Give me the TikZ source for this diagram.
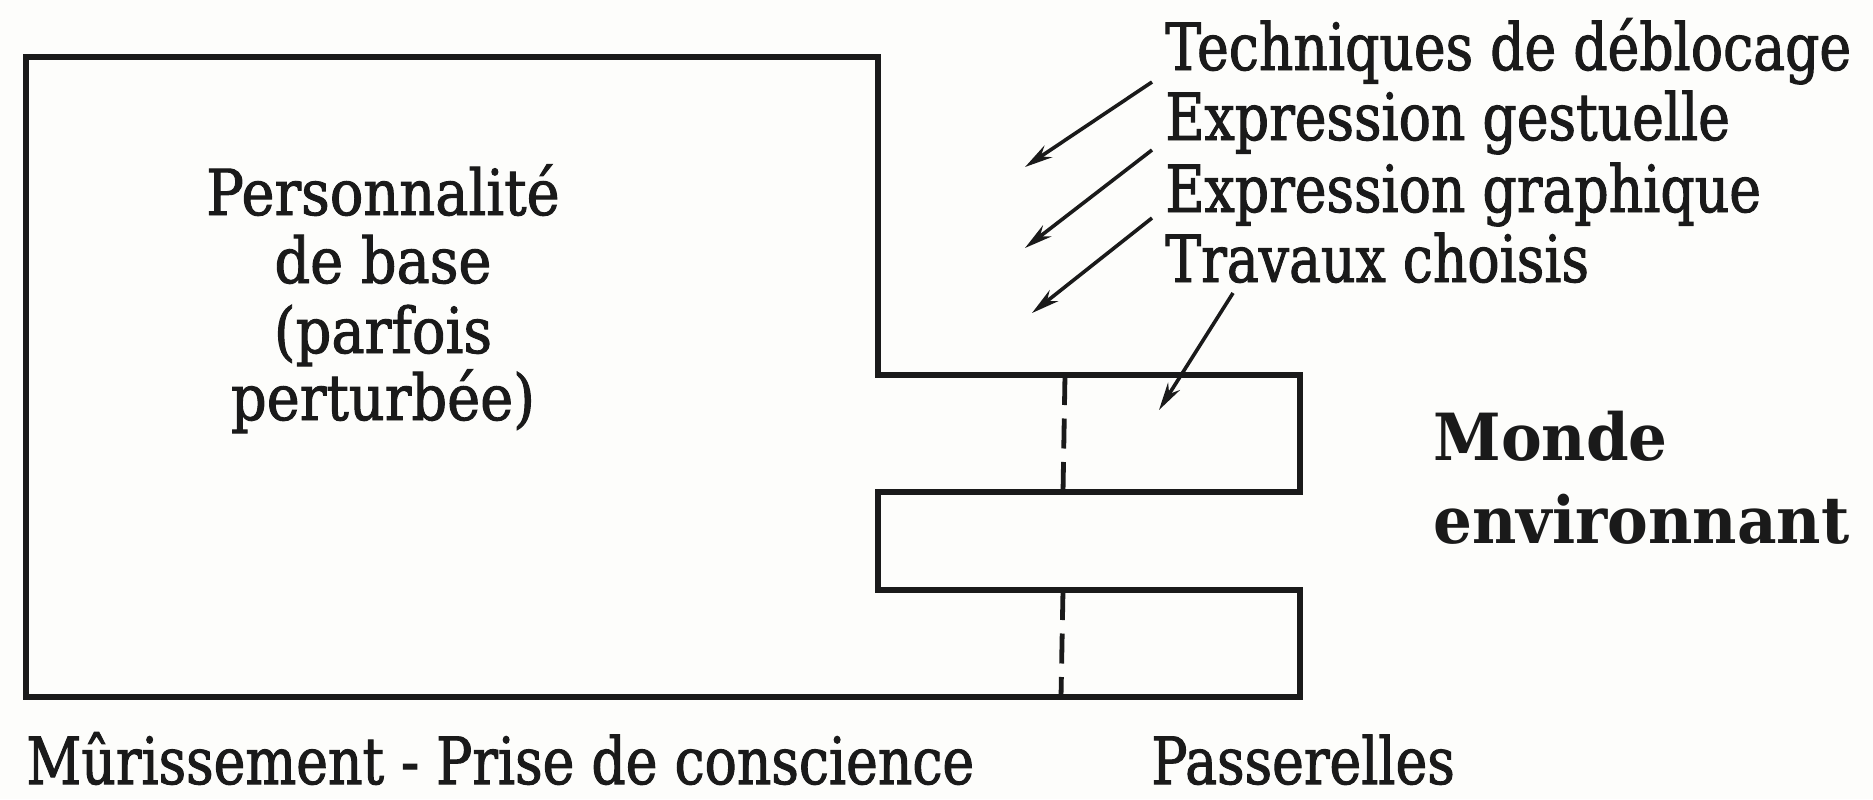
\documentclass[tikz,border=0pt]{standalone}
\usepackage{fontspec}
\setmainfont{DejaVu Serif}[FakeStretch=0.88, FakeBold=1.5]
\newfontfamily\narrowserif{DejaVu Serif}[FakeStretch=0.825, FakeBold=1.5]
\newfontfamily\wideserif{DejaVu Serif}[FakeStretch=0.94]
\usetikzlibrary{arrows.meta}
\definecolor{ink}{HTML}{1A1A1A}
\definecolor{paper}{HTML}{FDFDFB}
\begin{document}
\begin{tikzpicture}[x=0.5pt,y=-0.5pt,
  outline/.style={line width=2.9pt, line join=miter, draw=ink},
  passdash/.style={line width=2.4pt, dash pattern=on 15pt off 6.75pt, draw=ink},
  ptr/.style={line width=1.8pt, draw=ink, -{Stealth[length=14pt,width=7pt]}},
  lbl/.style={inner sep=0pt, text=ink, font=\fontsize{31.7}{36}\selectfont},
  narrowlbl/.style={lbl, font=\narrowserif\fontsize{32.5}{36}\selectfont},
  boldlbl/.style={lbl, font=\wideserif\fontsize{32.5}{36}\selectfont\bfseries},
]
\useasboundingbox[fill=paper] (0,0) rectangle (1873,799);

% outline of the personality block with its two footbridges
\draw[outline] (26,57) -- (878,57) -- (878,375) -- (1300,375) -- (1300,492)
  -- (878,492) -- (878,590) -- (1300,590) -- (1300,697) -- (26,697) -- cycle;

% dashed separations (passerelles)
\coordinate (d1a) at (1065,375); \coordinate (d1b) at (1063,492);
\coordinate (d2a) at (1063,590); \coordinate (d2b) at (1061,697);
\draw[passdash] (d1a) -- (d1b);
\draw[passdash] (d2a) -- (d2b);

% texts
\node[lbl, anchor=base] (p1) at (383,215) {Personnalité};
\node[lbl, anchor=base] (p2) at (383,283) {de base};
\node[lbl, anchor=base] (p3) at (383,353) {(parfois};
\node[lbl, anchor=base] (p4) at (383,420) {perturbée)};

\node[narrowlbl, anchor=base west] (t1) at (1165,70) {Techniques de déblocage};
\node[narrowlbl, anchor=base west] (t2) at (1165,140) {Expression gestuelle};
\node[narrowlbl, anchor=base west] (t3) at (1165,212) {Expression graphique};
\node[narrowlbl, anchor=base west] (t4) at (1165,282) {Travaux choisis};

\node[boldlbl, anchor=base west] (m1) at (1433,460) {Monde};
\node[boldlbl, anchor=base west] (m2) at (1433,543) {environnant};

\node[narrowlbl, anchor=base west] (b1) at (26,784) {Mûrissement - Prise de conscience};
\node[narrowlbl, anchor=base west] (b2) at (1151,784) {Passerelles};

% arrows
\coordinate (a1s) at (1152,82);  \coordinate (a1e) at (1025,167);
\coordinate (a2s) at (1152,150); \coordinate (a2e) at (1025,248);
\coordinate (a3s) at (1152,218); \coordinate (a3e) at (1032,313);
\coordinate (a4s) at (1233,293); \coordinate (a4e) at (1159,410);
\draw[ptr] (a1s) -- (a1e);
\draw[ptr] (a2s) -- (a2e);
\draw[ptr] (a3s) -- (a3e);
\draw[ptr] (a4s) -- (a4e);
\end{tikzpicture}
\end{document}
